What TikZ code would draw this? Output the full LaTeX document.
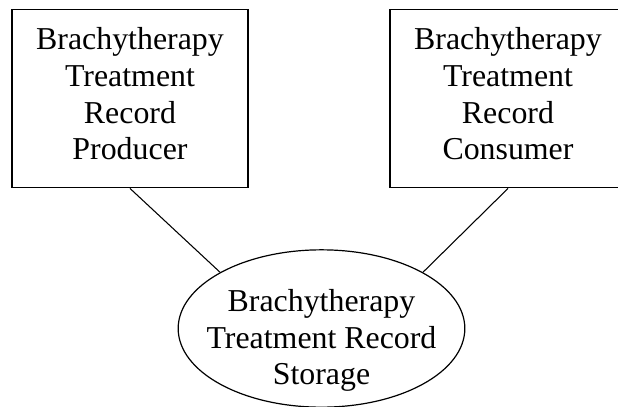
\documentclass[tikz,border=0pt]{standalone}
\usepackage{fontspec}
\setmainfont{Liberation Serif}
\usetikzlibrary{shapes.geometric}
\tikzstyle{record box}=[draw, line width=0.9pt, minimum width=177pt, minimum height=134pt, inner sep=0pt]
\tikzstyle{store}=[draw, ellipse, line width=0.9pt, minimum width=215pt, minimum height=118pt, inner sep=0pt]
\tikzstyle{label text}=[font=\fontsize{23.9}{27.5}\selectfont, align=center]
\begin{document}
\begin{tikzpicture}[x=0.75pt,y=-0.75pt]
		\path[use as bounding box, clip] (0,0) rectangle (618,407);

		% top boxes
		\node[record box] (producer) at (130,98.5) {};
		\node[record box] (consumer) at (508,98.5) {};
		\node[label text, yshift=3.5pt] (producertext) at (producer.center) {Brachytherapy\\Treatment\\Record\\Producer};
		\node[label text, yshift=3.5pt] (consumertext) at (consumer.center) {Brachytherapy\\Treatment\\Record\\Consumer};

		% storage
		\node[store] (storage) at (321.5,328.5) {};
		\node[label text, yshift=-9pt] (storagetext) at (storage.center) {Brachytherapy\\Treatment Record\\Storage};

		\draw[line width=0.8pt]
			(producer.south) -- (storage.151)
			(consumer.south) -- (storage.29)
		;
\end{tikzpicture}
\end{document}
